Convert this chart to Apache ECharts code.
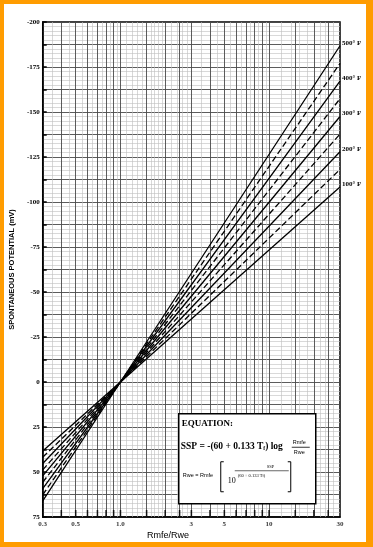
<!DOCTYPE html>
<html>
<head>
<meta charset="utf-8">
<script src="https://cdn.jsdelivr.net/npm/echarts@6/dist/echarts.min.js"></script>
<style>
html,body{margin:0;padding:0;background:#fff;}
#chart{position:absolute;left:0;top:0;width:373px;height:547px;background:#fff;}
#frame{position:absolute;left:0;top:0;width:373px;height:547px;box-sizing:border-box;
  border-style:solid;border-color:#ff9c00;border-width:4px 7px 5px 4px;pointer-events:none;}
</style>
</head>
<body>
<div id="chart"></div>
<div id="frame"></div>
<script>
// ---- data ----
const ratioPoints = [0.3, 1.0, 30];          // Rmfe/Rwe
const ssp100 = [38.3, 0, -108.3];
const ssp150 = [41.8, 0, -118.1];
const ssp200 = [45.3, 0, -127.9];
const ssp250 = [48.8, 0, -137.7];
const ssp300 = [52.2, 0, -147.5];
const ssp350 = [55.7, 0, -157.4];
const ssp400 = [59.2, 0, -167.2];
const ssp450 = [62.7, 0, -177.0];
const ssp500 = [66.1, 0, -186.8];
const tempNames = ['100° F','150° F','200° F','250° F','300° F','350° F','400° F','450° F','500° F'];
const tempValues = [ssp100, ssp150, ssp200, ssp250, ssp300, ssp350, ssp400, ssp450, ssp500];
const tempLabeled = [true, false, true, false, true, false, true, false, true];

const xTickValues = [0.3, 0.5, 1.0, 3, 5, 10, 30];
const xTickLabels = ['0.3', '0.5', '1.0', '3', '5', '10', '30'];
const gridDark = [0.4,0.5,0.6,0.7,0.8,0.9,1,1.5,2,2.5,3,4,5,6,7,8,9,10,15,20,25];
const gridLight = [0.35,0.45,0.55,0.65,0.75,0.85,0.95,1.1,1.2,1.3,1.4,1.6,1.7,1.8,1.9,2.2,2.4,2.6,2.8,3.5,4.5,5.5,6.5,7.5,8.5,9.5,12,14,16,18,22,24,27];

const serif = '"Liberation Serif", "DejaVu Serif", serif';
const sans = '"Liberation Sans", Arial, sans-serif';

const chart = echarts.init(document.getElementById('chart'), null, {renderer:'canvas'});

const vLines = [];
gridLight.forEach(v => vLines.push({xAxis: v, lineStyle: {color:'#bdbdbd', width:0.6, type:'solid'}}));
gridDark.forEach(v => vLines.push({xAxis: v, lineStyle: {color:'#4a4a4a', width:0.9, type:'solid'}}));

const series = [{
  type: 'line', data: [], silent: true, z: 1,
  markLine: {silent: true, symbol: ['none','none'], label: {show:false}, animation:false, data: vLines}
}];

tempNames.forEach((name, i) => {
  series.push({
    name: name, type: 'line', z: 5,
    data: ratioPoints.map((r, k) => [r, tempValues[i][k]]),
    showSymbol: false, symbol: 'none',
    lineStyle: {color:'#000', width:1.3, type: tempLabeled[i] ? 'solid' : [6, 3]},
    endLabel: {
      show: tempLabeled[i], formatter: name, color:'#000', fontFamily: serif,
      fontWeight:'bold', fontSize: 7, distance: 2, offset:[0,-3]
    },
    clip: false
  });
});

// bottom tick marks
series.push({
  type:'scatter', silent:true, z:6, clip:false,
  data: gridDark.map(v => [v, 75]),
  symbol:'rect', symbolSize:[1.6, 7], symbolOffset:[0, -3.5],
  itemStyle:{color:'#000'}
});
// x tick labels
series.push({
  type:'scatter', silent:true, z:6, clip:false,
  data: xTickValues.map(v => [v, 75]),
  symbolSize: 1, itemStyle:{color:'rgba(0,0,0,0)'},
  label:{show:true, position:'bottom', distance:3,
    formatter: p => xTickLabels[p.dataIndex],
    color:'#000', fontFamily: serif, fontWeight:'bold', fontSize:7}
});

const option = {
  animation: false,
  backgroundColor: '#fff',
  grid: {left:38, right:33, top:22, bottom:30, show:true, borderColor:'#000', borderWidth:1.5, backgroundColor:'transparent'},
  xAxis: {
    type:'log', logBase:10, min:0.3, max:30,
    axisLine:{show:true, onZero:false, lineStyle:{color:'#000', width:1.5}},
    axisTick:{show:false}, axisLabel:{show:false},
    splitLine:{show:false}, minorSplitLine:{show:false}
  },
  yAxis: {
    type:'value', inverse:true, min:-200, max:75, interval:12.5,
    name:'SPONTANEOUS POTENTIAL (mV)', nameLocation:'middle', nameGap:26, nameRotate:90,
    nameTextStyle:{fontFamily:sans, fontWeight:'bold', fontSize:7.5, color:'#000'},
    axisLine:{show:true, onZero:false, lineStyle:{color:'#000', width:1.5}},
    axisTick:{show:true, inside:true, length:4, lineStyle:{color:'#000', width:1.5}},
    axisLabel:{margin:3, color:'#000', fontFamily:serif, fontWeight:'bold', fontSize:7,
      formatter: v => (Math.abs(v % 25) < 1e-9 ? String(v) : '')},
    splitLine:{show:true, lineStyle:{color:'#4a4a4a', width:0.9}},
    minorTick:{show:false, splitNumber:5},
    minorSplitLine:{show:true, lineStyle:{color:'#c0c0c0', width:0.6}}
  },
  graphic: [
    {type:'text', left:147, top:531, style:{text:'Rmfe/Rwe', font:'9px ' + sans, fill:'#000'}},
    {type:'group', left:178, top:413, children:[
      {type:'rect', shape:{x:0, y:0, width:137, height:90}, style:{fill:'#fff', stroke:'#000', lineWidth:1.5}, z:10},
      {type:'text', x:3, y:5, z:11, style:{text:'EQUATION:', font:'bold 9px ' + serif, fill:'#000'}},
      {type:'text', x:2, y:28, z:11, style:{
        text:'SSP = -(60 + 0.133 T{s|f}) log',
        font:'bold 9.5px ' + serif, fill:'#000',
        rich:{s:{font:'bold 5.5px ' + serif, fill:'#000', verticalAlign:'bottom', lineHeight:6}}
      }},
      {type:'text', x:114, y:26, z:11, style:{text:'Rmfe', font:'5.5px ' + sans, fill:'#000'}},
      {type:'line', z:11, shape:{x1:113, y1:33.5, x2:131, y2:33.5}, style:{stroke:'#000', lineWidth:0.8}},
      {type:'text', x:115, y:36, z:11, style:{text:'Rwe', font:'5.5px ' + sans, fill:'#000'}},
      {type:'text', x:4, y:59, z:11, style:{text:'Rwe = Rmfe', font:'5.5px ' + sans, fill:'#000'}},
      {type:'polyline', z:11, shape:{points:[[45,48],[42,48],[42,78],[45,78]]}, style:{stroke:'#000', fill:null, lineWidth:1}},
      {type:'polyline', z:11, shape:{points:[[109,48],[112,48],[112,78],[109,78]]}, style:{stroke:'#000', fill:null, lineWidth:1}},
      {type:'text', x:88, y:51, z:11, style:{text:'SSP', font:'4.5px ' + serif, fill:'#000'}},
      {type:'line', z:11, shape:{x1:56, y1:57, x2:110, y2:57}, style:{stroke:'#000', lineWidth:0.6}},
      {type:'text', x:49, y:63, z:11, style:{text:'10', font:'8px ' + serif, fill:'#000'}},
      {type:'text', x:59, y:59.5, z:11, style:{
        text:'(60 + 0.133 T{s|f})', font:'4.5px ' + serif, fill:'#000',
        rich:{s:{font:'3.5px ' + serif, fill:'#000', verticalAlign:'bottom', lineHeight:4}}
      }}
    ]}
  ],
  series: series
};
chart.setOption(option);
</script>
</body>
</html>
